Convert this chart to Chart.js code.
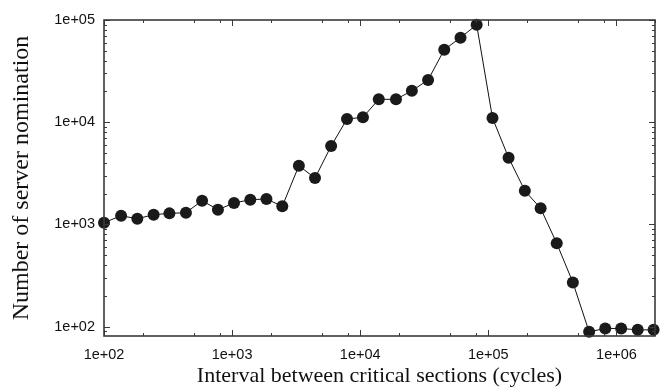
<!DOCTYPE html>
<html>
<head>
<meta charset="utf-8">
<script src="https://cdn.jsdelivr.net/npm/chart.js@4.4.1/dist/chart.umd.min.js"></script>
<style>
  html, body { margin: 0; padding: 0; background: #fff; }
  #wrap { width: 661px; height: 389px; }
</style>
</head>
<body>
<div id="wrap"><canvas id="chart" width="661" height="389"></canvas></div>
<script>
// interval between critical sections (cycles)
const intervals = [
    100, 136, 182, 244, 324, 436, 583, 775, 1035, 1387,
    1854, 2464, 3320, 4436, 5930, 7885, 10500, 13960, 19020, 25300,
    33870, 45290, 60670, 81100, 107800, 143900, 192800, 256000, 342000, 457000,
    612000, 818000, 1089000, 1466000, 1950000
];
// number of server nominations
const nominations = [
    1040, 1216, 1137, 1245, 1283, 1302, 1708, 1394, 1620, 1746,
    1774, 1503, 3750, 2842, 5850, 10740, 11170, 16750, 16750, 20300,
    25900, 51200, 67200, 89900, 10990, 4500, 2138, 1436, 653, 271,
    89, 96, 96, 93, 93
];
const xMajor = [1e2, 1e3, 1e4, 1e5, 1e6];
const yMajor = [1e2, 1e3, 1e4, 1e5];
const xMinorSteps = [2, 5, 8];
const yMinorSteps = [2, 3, 4, 5, 6, 7, 8, 9];

const frameColor = '#3a3a3a';

function expLabel(v) {
    const e = Math.round(Math.log10(v));
    return '1e+' + String(e).padStart(2, '0');
}

// frame and inward ticks on all four sides
const framePlugin = {
    id: 'frame',
    afterDatasetsDraw(chart) {
        const { ctx, chartArea: a, scales } = chart;
        const x = scales.x, y = scales.y;
        ctx.save();
        ctx.strokeStyle = frameColor;
        ctx.lineWidth = 1;
        ctx.beginPath();
        // x ticks
        xMajor.forEach(d => {
            const p = Math.round(x.getPixelForValue(d)) + 0.5;
            ctx.moveTo(p, a.bottom); ctx.lineTo(p, a.bottom - 6);
            ctx.moveTo(p, a.top); ctx.lineTo(p, a.top + 6);
            xMinorSteps.forEach(m => {
                const v = d * m;
                if (v > x.max) return;
                const q = Math.round(x.getPixelForValue(v)) + 0.5;
                ctx.moveTo(q, a.bottom); ctx.lineTo(q, a.bottom - 3);
                ctx.moveTo(q, a.top); ctx.lineTo(q, a.top + 3);
            });
        });
        // y ticks
        [10].concat(yMajor).forEach(d => {
            if (d >= y.min) {
                const p = Math.round(y.getPixelForValue(d)) + 0.5;
                ctx.moveTo(a.left, p); ctx.lineTo(a.left + 6, p);
                ctx.moveTo(a.right, p); ctx.lineTo(a.right - 6, p);
            }
            yMinorSteps.forEach(m => {
                const v = d * m;
                if (v < y.min || v > y.max) return;
                const q = Math.round(y.getPixelForValue(v)) + 0.5;
                ctx.moveTo(a.left, q); ctx.lineTo(a.left + 3, q);
                ctx.moveTo(a.right, q); ctx.lineTo(a.right - 3, q);
            });
        });
        ctx.stroke();
        ctx.lineWidth = 1.6;
        ctx.strokeRect(a.left, a.top, a.right - a.left, a.bottom - a.top);
        ctx.restore();
    }
};

const points = intervals.map((v, i) => ({ x: v, y: nominations[i] }));

new Chart(document.getElementById('chart'), {
    type: 'line',
    data: {
        datasets: [{
            data: points,
            borderColor: '#111',
            borderWidth: 1,
            backgroundColor: '#1a1a1a',
            pointBackgroundColor: '#1a1a1a',
            pointBorderColor: '#1a1a1a',
            pointBorderWidth: 0,
            pointRadius: 6,
            tension: 0,
            clip: false
        }]
    },
    options: {
        responsive: false,
        animation: false,
        events: [],
        layout: { padding: { top: 20, right: 2, left: 0, bottom: 0 } },
        plugins: { legend: { display: false }, tooltip: { enabled: false } },
        scales: {
            x: {
                type: 'logarithmic',
                min: 100,
                max: 2e6,
                grid: { display: false, drawTicks: false },
                border: { display: false },
                afterBuildTicks: s => { s.ticks = xMajor.map(v => ({ value: v })); },
                afterFit: s => { s.height = 53; },
                ticks: {
                    autoSkip: false,
                    maxRotation: 0,
                    padding: 10,
                    color: '#111',
                    font: { family: 'Liberation Sans', size: 14.5 },
                    callback: v => expLabel(v)
                },
                title: {
                    display: true,
                    text: 'Interval between critical sections (cycles)',
                    color: '#111',
                    padding: { top: 0, bottom: 0 },
                    font: { family: 'Liberation Serif', size: 22 }
                }
            },
            y: {
                type: 'logarithmic',
                min: 81,
                max: 1e5,
                grid: { display: false, drawTicks: false },
                border: { display: false },
                afterBuildTicks: s => { s.ticks = yMajor.map(v => ({ value: v })); },
                afterFit: s => { s.width = 104; },
                ticks: {
                    autoSkip: false,
                    padding: 9,
                    color: '#111',
                    font: { family: 'Liberation Sans', size: 14.5 },
                    callback: v => expLabel(v)
                },
                title: {
                    display: true,
                    text: 'Number of server nomination',
                    color: '#111',
                    padding: { top: 7, bottom: 0 },
                    font: { family: 'Liberation Serif', size: 24 }
                }
            }
        }
    },
    plugins: [framePlugin]
});
</script>
</body>
</html>
